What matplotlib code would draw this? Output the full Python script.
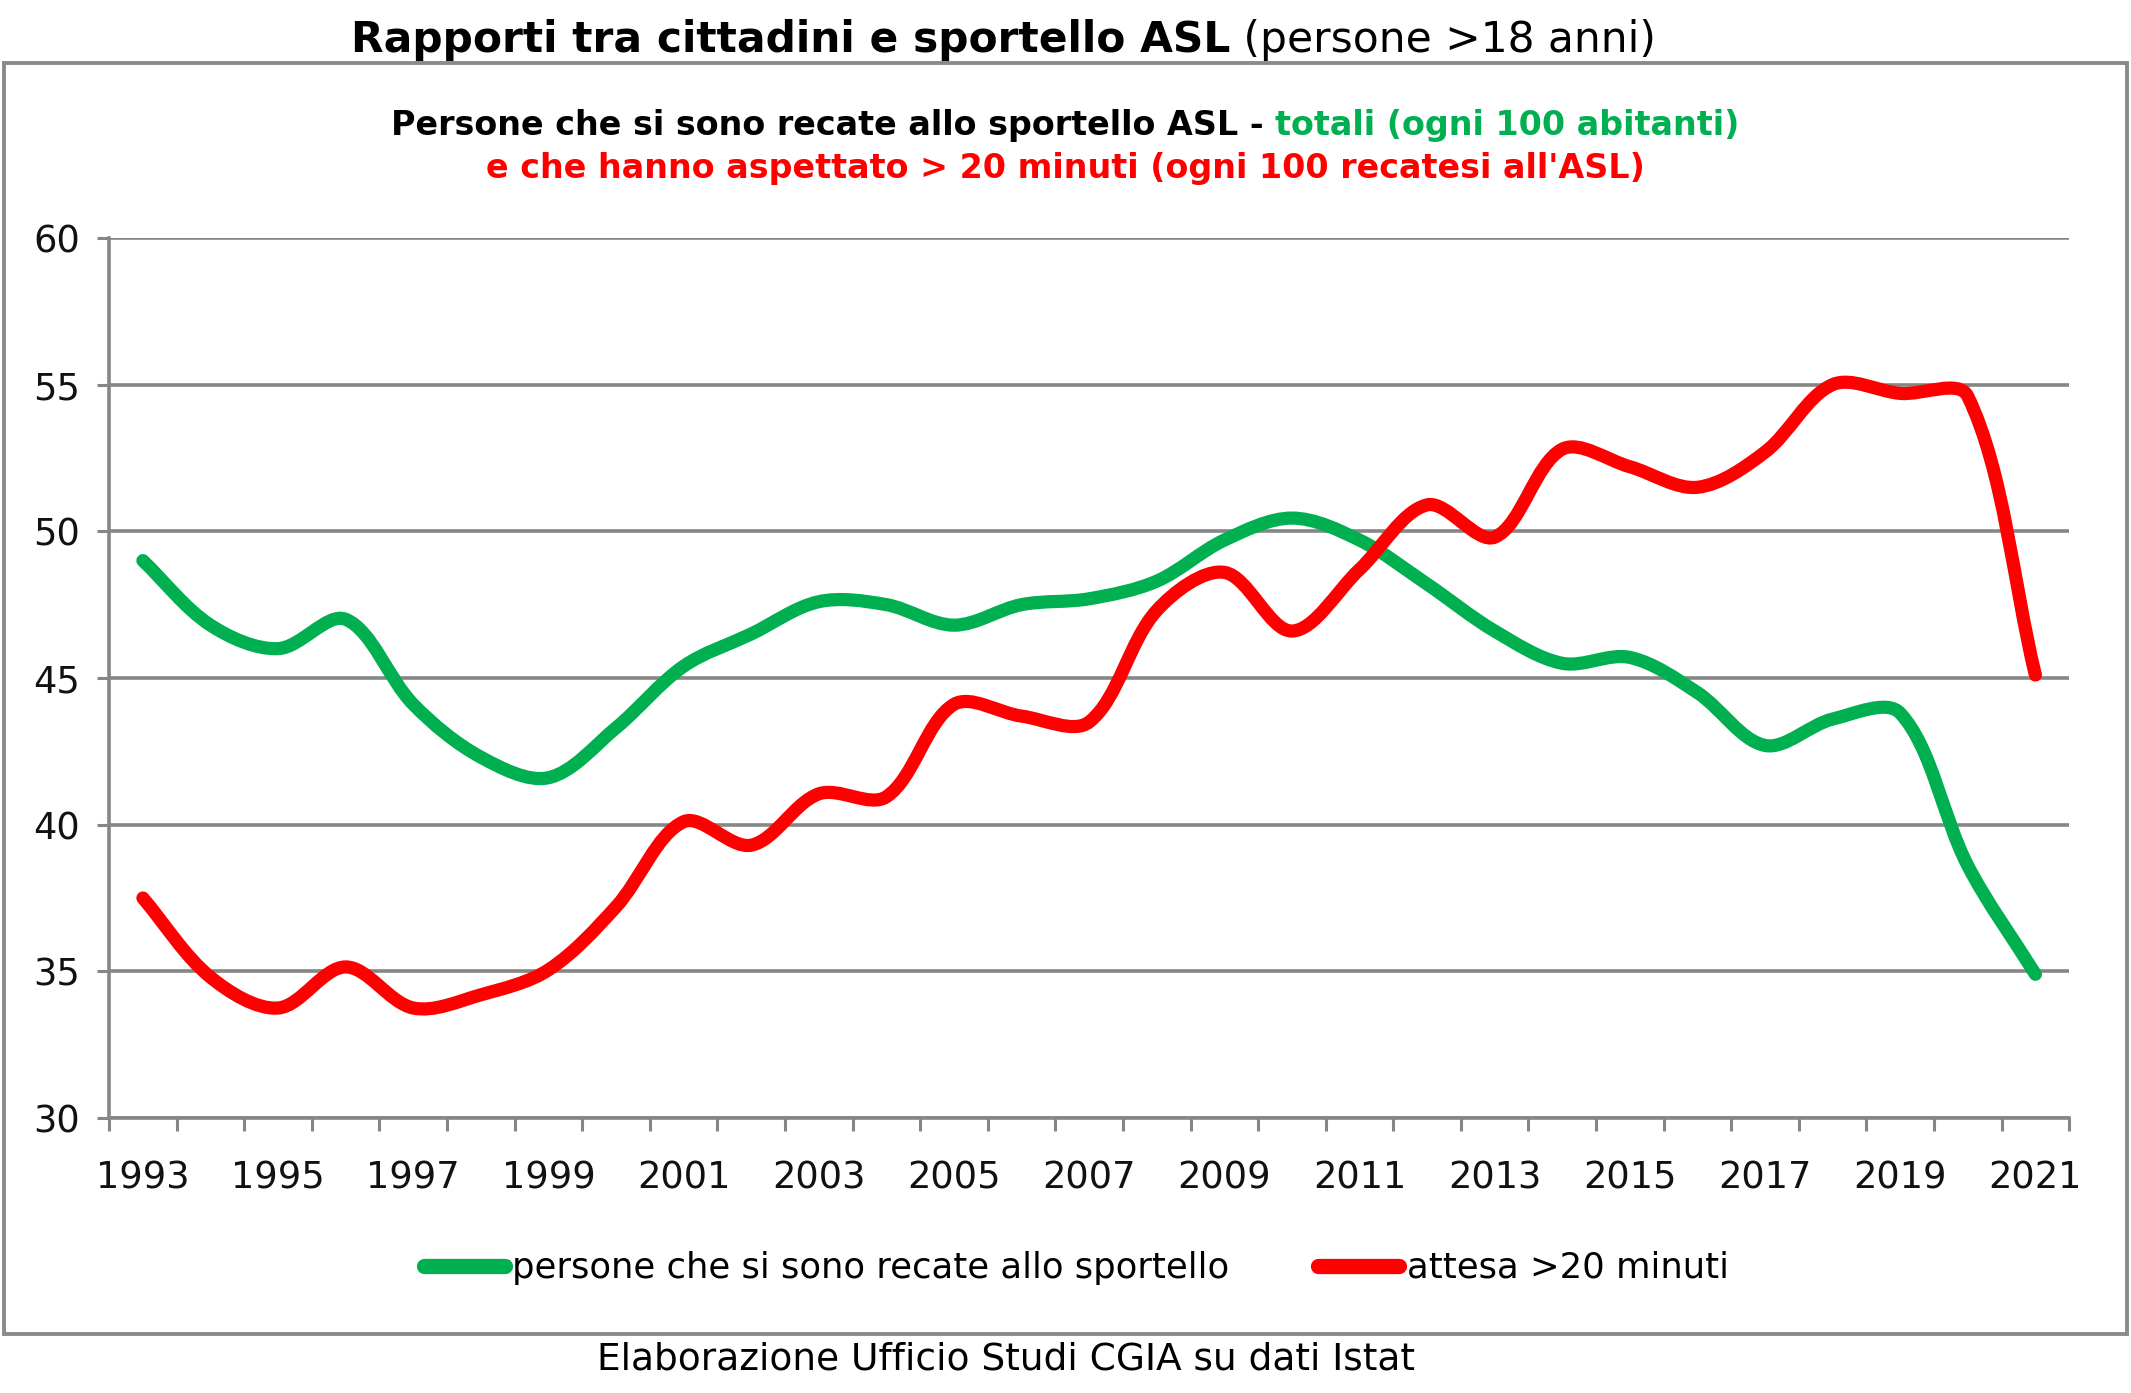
import numpy as np
import matplotlib
matplotlib.use("Agg")
import matplotlib.pyplot as plt
from matplotlib.path import Path
from matplotlib.patches import PathPatch, Rectangle
from matplotlib.lines import Line2D

years = list(range(1993, 2022))
sportello = [49.0, 46.8, 46.0, 47.0, 44.1, 42.3, 41.6, 43.3, 45.4, 46.5,
             47.6, 47.5, 46.8, 47.5, 47.7, 48.3, 49.7, 50.45, 49.7, 48.2,
             46.6, 45.5, 45.7, 44.5, 42.7, 43.6, 43.8, 38.6, 34.9]
attesa = [37.5, 34.8, 33.75, 35.15, 33.75, 34.2, 35.05, 37.2, 40.1, 39.3,
          41.05, 40.95, 44.1, 43.7, 43.5, 47.3, 48.6, 46.6, 48.7, 50.9,
          49.8, 52.8, 52.2, 51.5, 52.7, 55.0, 54.7, 54.6, 45.1]
tick_years = [str(y) for y in years[::2]]

GREEN = "#00B050"
RED = "#FF0000"
GRID = "#868686"


def smooth_path(ax, xs, ys):
    # Excel-like smoothed line: cubic Bezier, tangents weighted by segment length on screen
    pix = ax.transData.transform(np.column_stack([xs, ys]).astype(float))
    n = len(pix)
    ext = np.vstack([pix[0], pix, pix[-1]])
    verts = [pix[0]]
    codes = [Path.MOVETO]
    for i in range(n - 1):
        p0, p1, p2, p3 = ext[i], ext[i + 1], ext[i + 2], ext[i + 3]
        d01 = np.hypot(*(p1 - p0))
        d12 = np.hypot(*(p2 - p1))
        d23 = np.hypot(*(p3 - p2))
        f1 = d12 / (d01 + d12) / 1.5 if d01 + d12 > 0 else 0
        f2 = d12 / (d12 + d23) / 1.5 if d12 + d23 > 0 else 0
        c1 = p1 + (p2 - p0) * f1 / 2
        c2 = p2 - (p3 - p1) * f2 / 2
        verts += [c1, c2, p2]
        codes += [Path.CURVE4] * 3
    data = ax.transData.inverted().transform(np.array(verts))
    return Path(data, codes)


fig = plt.figure(figsize=(21.31, 13.93), dpi=100)
ax = fig.add_axes([0.0512, 0.1974, 0.9198, 0.6318])
ax.set_xlim(-0.5, len(years) - 0.5)
ax.set_ylim(30, 60)

x = np.arange(len(years))
for vals, col in [(sportello, GREEN), (attesa, RED)]:
    ax.add_patch(PathPatch(smooth_path(ax, x, vals), fill=False, edgecolor=col,
                           lw=9.5, capstyle="round", joinstyle="round", zorder=3))

ax.set_yticks(range(30, 61, 5))
ax.yaxis.grid(True, color=GRID, lw=2.6)
ax.set_axisbelow(True)
for s in ["top", "right"]:
    ax.spines[s].set_visible(False)
for s in ["left", "bottom"]:
    ax.spines[s].set_color(GRID)
    ax.spines[s].set_linewidth(2.6)

ax.set_xticks(np.arange(-0.5, len(years), 1))
ax.set_xticklabels([])
ax.set_xticks(x[::2], minor=True)
ax.set_xticklabels(tick_years, minor=True)
ax.tick_params(axis="x", which="major", length=9, width=2.2, color=GRID, direction="out")
ax.tick_params(axis="x", which="minor", length=0, pad=30, labelsize=26.5, labelcolor="#111111")
ax.tick_params(axis="y", length=9, width=2.2, color=GRID, pad=12, labelsize=26.5, labelcolor="#111111")

# outer frame
fig.patches.append(Rectangle((0.002, 0.042), 0.996, 0.913, transform=fig.transFigure,
                             fill=False, edgecolor="#8a8a8a", lw=2.8))

renderer = fig.canvas.get_renderer()
W = fig.bbox.width


def text_row(xc, y, parts, size):
    # place several differently styled text pieces side by side, centred on xc
    objs = []
    for txt, weight, col in parts:
        objs.append(fig.text(0, y, txt, fontsize=size, fontweight=weight, color=col,
                             ha="left", va="baseline"))
    widths = [t.get_window_extent(renderer).width for t in objs]
    x0 = xc - sum(widths) / 2 / W
    for t, w in zip(objs, widths):
        t.set_x(x0)
        x0 += w / W


text_row(0.471, 0.963, [("Rapporti tra cittadini e sportello ASL", "bold", "black"),
                        ("\u00a0(persone >18 anni)", "normal", "black")], 30.5)
text_row(0.5, 0.903, [("Persone che si sono recate allo sportello ASL -\u00a0", "bold", "black"),
                      ("totali (ogni 100 abitanti)", "bold", GREEN)], 24)
text_row(0.5, 0.872, [("e che hanno aspettato > 20 minuti (ogni 100 recatesi all'ASL)", "bold", RED)], 24)

handles = [Line2D([], [], color=GREEN, lw=11, solid_capstyle="round"),
           Line2D([], [], color=RED, lw=11, solid_capstyle="round")]
fig.legend(handles, ["persone che si sono recate allo sportello", "attesa >20 minuti"],
           loc="center", bbox_to_anchor=(0.505, 0.0898), ncol=2, frameon=False,
           fontsize=25.5, handlelength=2.3, handletextpad=0.2, columnspacing=2.5)

fig.text(0.472, 0.0244, "Elaborazione Ufficio Studi CGIA su dati Istat", fontsize=27,
         ha="center", va="center")

fig.savefig("out.png", dpi=100)
